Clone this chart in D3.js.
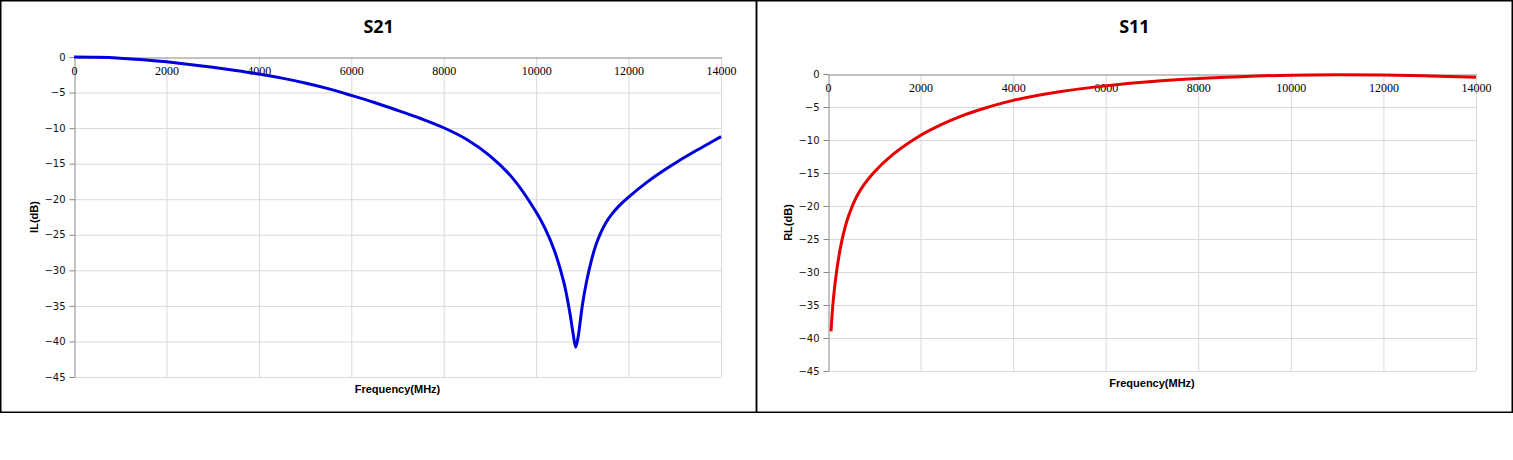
<!DOCTYPE html>
<html>
<head>
<meta charset="utf-8">
<script src="https://d3js.org/d3.v7.min.js"></script>
<style>
  body { margin: 0; background: #fff; }
  svg { display: block; }
</style>
</head>
<body>
<div id="chart"></div>
<script>
// S21 insertion loss
const s21Freq = [0, 500, 1000, 1500, 2000, 2500, 3000, 3500, 4000, 4500, 5000, 5500, 6000, 6500, 7000, 7500, 8000, 8500, 9000, 9500, 10000, 10200, 10400, 10600, 10730, 10800, 10856, 10910, 10950, 11000, 11090, 11200, 11300, 11400, 11500, 11650, 11800, 12000, 12400, 12750, 13100, 13400, 13700, 14000];
const s21Loss = [0, -0.04, -0.16, -0.38, -0.68, -1.04, -1.44, -1.89, -2.39, -2.97, -3.65, -4.45, -5.4, -6.4, -7.5, -8.65, -9.95, -11.6, -13.9, -17.1, -21.8, -24.2, -27.3, -31.7, -36.0, -38.9, -40.8, -39.3, -37.4, -34.9, -31.6, -28.5, -26.3, -24.7, -23.4, -22.0, -20.9, -19.7, -17.6, -16.0, -14.55, -13.4, -12.3, -11.2];

// S11 return loss
const s11Freq = [65, 115, 190, 295, 440, 655, 980, 1410, 2020, 2420, 2850, 3400, 4000, 5000, 6000, 7000, 8000, 8900, 10000, 11000, 12000, 13000, 14000];
const s11Loss = [-39.0, -34.2, -29.7, -25.4, -21.6, -18.1, -15.0, -12.15, -9.2, -7.75, -6.45, -5.15, -4.0, -2.7, -1.8, -1.15, -0.7, -0.4, -0.18, -0.12, -0.15, -0.3, -0.5];

const xTicks = [0, 2000, 4000, 6000, 8000, 10000, 12000, 14000];
const yTicks = [0, -5, -10, -15, -20, -25, -30, -35, -40, -45];

const width = 1513;
const height = 460;

const svg = d3.select("#chart")
  .append("svg")
  .attr("width", width)
  .attr("height", height);

// one chart panel
function drawPanel(opt, freq, loss) {
  const g = svg.append("g");

  // frame
  g.append("rect")
    .attr("x", opt.box[0])
    .attr("y", 0.75)
    .attr("width", opt.box[1] - opt.box[0])
    .attr("height", 411.5)
    .attr("fill", "none")
    .attr("stroke", "#000")
    .attr("stroke-width", 1.5);

  const x = d3.scaleLinear().domain([0, 14000]).range([opt.left, opt.right]);
  const y = d3.scaleLinear().domain([0, -45]).range([opt.top, opt.bottom]);

  // gridlines
  g.append("g")
    .selectAll("line")
    .data(yTicks.slice(1))
    .join("line")
    .attr("x1", opt.left).attr("x2", opt.right)
    .attr("y1", d => y(d) + 0.5).attr("y2", d => y(d) + 0.5)
    .attr("stroke", "#d9d9d9");
  g.append("g")
    .selectAll("line")
    .data(xTicks.slice(1))
    .join("line")
    .attr("x1", d => x(d) + 0.5).attr("x2", d => x(d) + 0.5)
    .attr("y1", opt.top).attr("y2", opt.bottom)
    .attr("stroke", "#d9d9d9");

  // y axis
  const yAxis = g.append("g")
    .attr("transform", `translate(${opt.left + 0.5},0)`)
    .call(d3.axisLeft(y).tickValues(yTicks).tickSize(5).tickSizeOuter(0).tickPadding(4));
  yAxis.select(".domain").attr("stroke", "#868686");
  yAxis.selectAll(".tick line").attr("stroke", "#868686");
  yAxis.selectAll(".tick text")
    .attr("font-family", "DejaVu Sans")
    .attr("font-size", 10)
    .attr("fill", "#111");

  // x axis sits on the 0 dB line, labels hang below it
  const xAxis = g.append("g")
    .attr("transform", `translate(0,${y(0) + 0.5})`)
    .call(d3.axisBottom(x).tickValues(xTicks).tickFormat(d3.format("d"))
      .tickSize(0).tickSizeOuter(0).tickPadding(9));
  xAxis.select(".domain").attr("stroke", "#868686");
  xAxis.selectAll(".tick text")
    .attr("font-family", "Liberation Serif")
    .attr("font-size", 12)
    .attr("fill", "#000");

  // curve
  const line = d3.line()
    .x((d, i) => x(freq[i]))
    .y(d => y(d))
    .curve(d3.curveCatmullRom.alpha(0.5));

  g.append("path")
    .datum(loss)
    .attr("d", line)
    .attr("fill", "none")
    .attr("stroke", opt.color)
    .attr("stroke-width", 3)
    .attr("stroke-linejoin", "round");

  // titles
  g.append("text")
    .attr("x", (opt.box[0] + opt.box[1]) / 2)
    .attr("y", 33)
    .attr("text-anchor", "middle")
    .attr("font-family", "Open Sans")
    .attr("font-weight", "bold")
    .attr("font-size", 18)
    .text(opt.title);

  g.append("text")
    .attr("x", (opt.left + opt.right) / 2)
    .attr("y", opt.bottom + 16)
    .attr("text-anchor", "middle")
    .attr("font-family", "Liberation Sans")
    .attr("font-weight", "bold")
    .attr("font-size", 11)
    .text("Frequency(MHz)");

  g.append("text")
    .attr("transform", `translate(${opt.left - 36},${(opt.top + opt.bottom) / 2}) rotate(-90)`)
    .attr("text-anchor", "middle")
    .attr("font-family", "Liberation Sans")
    .attr("font-weight", "bold")
    .attr("font-size", 11)
    .text(opt.yTitle);
}

drawPanel({
  box: [0.75, 756.5], left: 74, right: 721, top: 57, bottom: 377,
  title: "S21", yTitle: "IL(dB)", color: "#0000dd"
}, s21Freq, s21Loss);

drawPanel({
  box: [756.5, 1512.25], left: 828, right: 1476, top: 74, bottom: 371,
  title: "S11", yTitle: "RL(dB)", color: "#e60000"
}, s11Freq, s11Loss);
</script>
</body>
</html>
